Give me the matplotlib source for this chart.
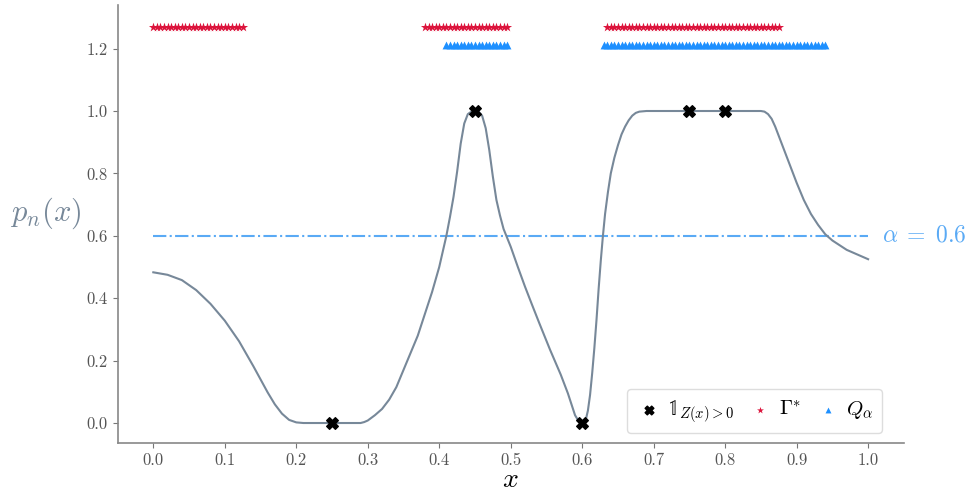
import numpy as np
import matplotlib
matplotlib.use("Agg")
import matplotlib.pyplot as plt

plt.rcParams['font.family'] = 'serif'
plt.rcParams['font.serif'] = ['cmr10', 'DejaVu Serif']
plt.rcParams['mathtext.fontset'] = 'cm'
plt.rcParams['axes.formatter.use_mathtext'] = True

# posterior curve p_n(x)
x_curve = [0.0, 0.02, 0.04, 0.06, 0.08, 0.1, 0.12, 0.14, 0.16, 0.17,
           0.18, 0.19, 0.2, 0.21, 0.25, 0.29, 0.295, 0.3, 0.31, 0.32,
           0.33, 0.34, 0.35, 0.36, 0.37, 0.38, 0.39, 0.4, 0.41, 0.415,
           0.42, 0.425, 0.43, 0.435, 0.44, 0.445, 0.45, 0.455, 0.46, 0.465,
           0.47, 0.475, 0.48, 0.485, 0.49, 0.5, 0.51, 0.52, 0.53, 0.54,
           0.555, 0.57, 0.58, 0.585, 0.59, 0.595, 0.6, 0.605, 0.608, 0.611,
           0.614, 0.617, 0.62, 0.623, 0.626, 0.629, 0.632, 0.636, 0.64, 0.645,
           0.65, 0.655, 0.66, 0.665, 0.67, 0.675, 0.68, 0.69, 0.75, 0.8,
           0.85, 0.855, 0.86, 0.865, 0.87, 0.875, 0.88, 0.89, 0.9, 0.91,
           0.92, 0.93, 0.94, 0.95, 0.96, 0.97, 0.98, 0.99, 1.0]
p_curve = [0.483, 0.475, 0.458, 0.426, 0.382, 0.328, 0.262, 0.182, 0.098, 0.06,
           0.03, 0.01, 0.002, 0.0, 0.0, 0.0, 0.003, 0.008, 0.025, 0.045,
           0.075, 0.115, 0.17, 0.225, 0.28, 0.35, 0.42, 0.5, 0.6, 0.66,
           0.725, 0.805, 0.895, 0.96, 0.99, 0.998, 1.0, 0.998, 0.985, 0.945,
           0.875, 0.79, 0.715, 0.665, 0.622, 0.565, 0.5, 0.437, 0.378, 0.32,
           0.235, 0.155, 0.095, 0.06, 0.025, 0.006, 0.0, 0.01, 0.04, 0.09,
           0.16, 0.24, 0.33, 0.43, 0.52, 0.6, 0.67, 0.74, 0.8, 0.85,
           0.89, 0.925, 0.95, 0.97, 0.985, 0.994, 0.998, 1.0, 1.0, 1.0,
           1.0, 0.998, 0.99, 0.975, 0.95, 0.92, 0.89, 0.83, 0.77, 0.715,
           0.67, 0.635, 0.605, 0.585, 0.57, 0.555, 0.545, 0.535, 0.525]

# observed points (indicator of Z(x) > 0)
x_obs = [0.25, 0.45, 0.6, 0.75, 0.8]
y_obs = [0.0, 1.0, 0.0, 1.0, 1.0]

alpha = 0.6
# grid intervals flagged for Gamma* and Q_alpha
gamma_segments = [(0.0, 0.125), (0.38, 0.495), (0.635, 0.875)]
q_segments = [(0.41, 0.495), (0.63, 0.94)]
grid_step = 0.005
y_gamma = 1.27
y_q = 1.21


def seg_points(segments):
    pts = [np.arange(a, b + grid_step / 2, grid_step) for a, b in segments]
    return np.concatenate(pts)


curve_col = 'lightslategray'
alpha_col = '#5aaaf5'

fig = plt.figure(figsize=(9.78, 4.92), dpi=100)
ax = fig.add_axes([0.1202, 0.099, 0.804, 0.891])

ax.plot(x_curve, p_curve, color=curve_col, lw=1.5, zorder=2)
ax.hlines(alpha, 0.0, 1.0, colors=alpha_col, linestyles='-.', lw=1.5, zorder=1)
ax.text(1.02, alpha, r'$\alpha\;=\;0.6$', color=alpha_col, fontsize=17,
        va='center', ha='left', clip_on=False)

ax.scatter(x_obs, y_obs, marker='X', s=70, color='black', zorder=4,
           label=r'$\mathbb{1}_{Z(x)>0}$')
xg = seg_points(gamma_segments)
ax.scatter(xg, np.full_like(xg, y_gamma), marker='*', s=48, color='crimson',
           lw=0, zorder=3, label=r'$\Gamma^{*}$')
xq = seg_points(q_segments)
ax.scatter(xq, np.full_like(xq, y_q), marker='^', s=32, color='dodgerblue',
           lw=0, zorder=3, label=r'$Q_{\alpha}$')

ax.set_xlim(-0.05, 1.05)
ax.set_ylim(-0.065, 1.34)
ax.set_xticks(np.arange(0, 1.01, 0.1))
ax.set_yticks(np.arange(0, 1.21, 0.2))
ax.set_xticklabels([f'{v:.1f}' for v in np.arange(0, 1.01, 0.1)])
ax.set_yticklabels([f'{v:.1f}' for v in np.arange(0, 1.21, 0.2)])
ax.tick_params(colors='#777777', labelcolor='#555555', labelsize=12,
               length=3.5, width=0.8)
for side in ['top', 'right']:
    ax.spines[side].set_visible(False)
for side in ['left', 'bottom']:
    ax.spines[side].set_color('#888888')
    ax.spines[side].set_linewidth(1.2)

ax.set_xlabel(r'$x$', fontsize=20, labelpad=-1)
ax.set_ylabel(r'$p_n(x)$', fontsize=22, color=curve_col, rotation=0,
              va='center', ha='center')
ax.yaxis.set_label_coords(-0.091, 0.525)

ax.legend(loc='lower right', bbox_to_anchor=(0.972, 0.0235), borderaxespad=0,
          ncol=3, fontsize=15, handletextpad=0.25, columnspacing=0.6,
          handlelength=1.3, markerscale=0.75, framealpha=1.0,
          edgecolor='#dddddd')

fig.savefig('out.png', dpi=100)
